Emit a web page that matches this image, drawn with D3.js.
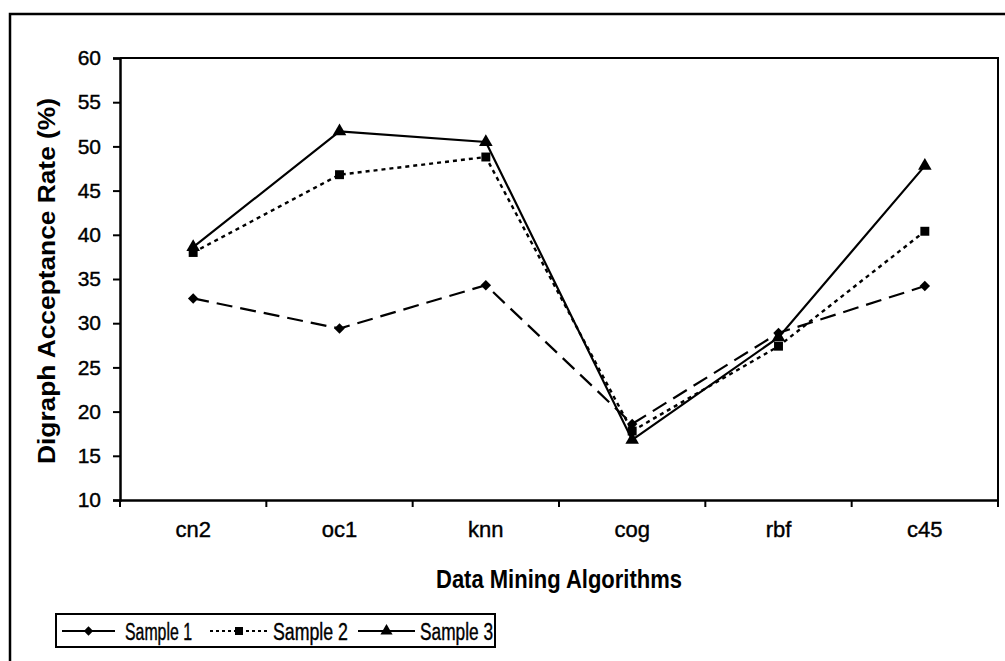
<!DOCTYPE html>
<html>
<head>
<meta charset="utf-8">
<script src="https://cdn.jsdelivr.net/npm/d3@7"></script>
<style>
  html, body { margin: 0; padding: 0; background: #fff; }
  svg { display: block; }
  text { font-family: "Liberation Sans", Arial, sans-serif; fill: #000; }
</style>
</head>
<body>
<svg id="chart" width="1005" height="661"></svg>
<script>
const categories = ["cn2", "oc1", "knn", "cog", "rbf", "c45"];
const sample1 = [32.8, 29.4, 34.3, 18.6, 28.9, 34.2];
const sample2 = [38.0, 46.8, 48.8, 17.8, 27.4, 40.4];
const sample3 = [38.6, 51.7, 50.5, 16.8, 28.4, 47.8];
const seriesNames = ["Sample 1", "Sample 2", "Sample 3"];
const yTicks = [10, 15, 20, 25, 30, 35, 40, 45, 50, 55, 60];

(function () {
const svg = d3.select("#chart");
const pL = 120, pR = 998, pT = 58, pB = 500;

// outer chart border
svg.append("path").attr("d", "M10,661 L10,14 L1005,14")
  .attr("fill", "none").attr("stroke", "#000").attr("stroke-width", 2.5);

const x = d3.scaleBand().domain(categories).range([pL, pR]).padding(0);
const y = d3.scaleLinear().domain([10, 60]).range([pB, pT]);

// plot area border (top & right)
svg.append("path").attr("d", `M${pL},${pT} L${pR},${pT} L${pR},${pB}`)
  .attr("fill", "none").attr("stroke", "#000").attr("stroke-width", 2);

// y axis
const yAxis = svg.append("g").attr("transform", `translate(${pL},0)`)
  .call(d3.axisLeft(y).tickValues(yTicks).tickSize(7).tickPadding(12));
yAxis.select(".domain").attr("stroke-width", 2.5);
yAxis.selectAll(".tick line").attr("stroke-width", 2);
yAxis.selectAll("text").attr("font-size", 21).attr("font-family", "'Liberation Sans', Arial, sans-serif")
  .attr("stroke", "#000").attr("stroke-width", 0.4);

// x axis with ticks at band boundaries
const xAxis = svg.append("g").attr("transform", `translate(0,${pB})`)
  .call(d3.axisBottom(x).tickSize(0).tickPadding(21));
xAxis.select(".domain").attr("stroke-width", 2.5);
xAxis.selectAll("text").attr("font-size", 22).attr("font-family", "'Liberation Sans', Arial, sans-serif")
  .attr("stroke", "#000").attr("stroke-width", 0.4);
const boundaries = categories.map(c => x(c)).concat([x(categories[categories.length - 1]) + x.bandwidth()]);
xAxis.selectAll(".bticks").data(boundaries).enter().append("line")
  .attr("x1", d => d).attr("x2", d => d).attr("y1", 0).attr("y2", 7)
  .attr("stroke", "#000").attr("stroke-width", 2);

// axis titles
svg.append("text").attr("x", (pL + pR) / 2).attr("y", 588)
  .attr("text-anchor", "middle").attr("font-weight", "bold").attr("font-size", 25)
  .attr("textLength", 246).attr("lengthAdjust", "spacingAndGlyphs")
  .text("Data Mining Algorithms");
svg.append("text").attr("transform", `translate(55,${(pT + pB) / 2 + 2}) rotate(-90)`)
  .attr("text-anchor", "middle").attr("font-weight", "bold").attr("font-size", 24)
  .attr("textLength", 366).attr("lengthAdjust", "spacingAndGlyphs")
  .text("Digraph Acceptance Rate (%)");

const series = [
  { name: seriesNames[0], values: sample1, dash: "16,8", width: 2.2, symbol: d3.symbolDiamond2, size: 70 },
  { name: seriesNames[1], values: sample2, dash: "4,4", width: 2.4, symbol: d3.symbolSquare, size: 80 },
  { name: seriesNames[2], values: sample3, dash: null, width: 2.2, symbol: d3.symbolTriangle, size: 80 }
];

const cx = c => x(c) + x.bandwidth() / 2;
const line = d3.line().x((d, i) => cx(categories[i])).y(d => y(d));

series.forEach(s => {
  svg.append("path").datum(s.values).attr("d", line)
    .attr("fill", "none").attr("stroke", "#000").attr("stroke-width", s.width)
    .attr("stroke-dasharray", s.dash);
  svg.selectAll(null).data(s.values).enter().append("path")
    .attr("d", d3.symbol().type(s.symbol).size(s.size))
    .attr("transform", (d, i) => `translate(${cx(categories[i])},${y(d)})`)
    .attr("fill", "#000");
});

// legend
const legend = svg.append("g");
legend.append("rect").attr("x", 56).attr("y", 614).attr("width", 439).attr("height", 33)
  .attr("fill", "#fff").attr("stroke", "#000").attr("stroke-width", 2);
const legendPos = [
  { x1: 62, x2: 115, tx: 125, tw: 67 },
  { x1: 210, x2: 268, tx: 273, tw: 75 },
  { x1: 358, x2: 415, tx: 420, tw: 73 }
];
series.forEach((s, i) => {
  const p = legendPos[i];
  const ly = 631;
  legend.append("line").attr("x1", p.x1).attr("x2", p.x2).attr("y1", ly).attr("y2", ly)
    .attr("stroke", "#000").attr("stroke-width", 2).attr("stroke-dasharray", i === 1 ? "3,3" : null);
  legend.append("path").attr("d", d3.symbol().type(s.symbol).size(s.size * 0.8))
    .attr("transform", `translate(${(p.x1 + p.x2) / 2},${ly})`).attr("fill", "#000");
  legend.append("text").attr("x", p.tx).attr("y", 640).attr("font-size", 23)
    .attr("stroke", "#000").attr("stroke-width", 0.4)
    .attr("textLength", p.tw).attr("lengthAdjust", "spacingAndGlyphs").text(s.name);
});
})();
</script>
</body>
</html>
